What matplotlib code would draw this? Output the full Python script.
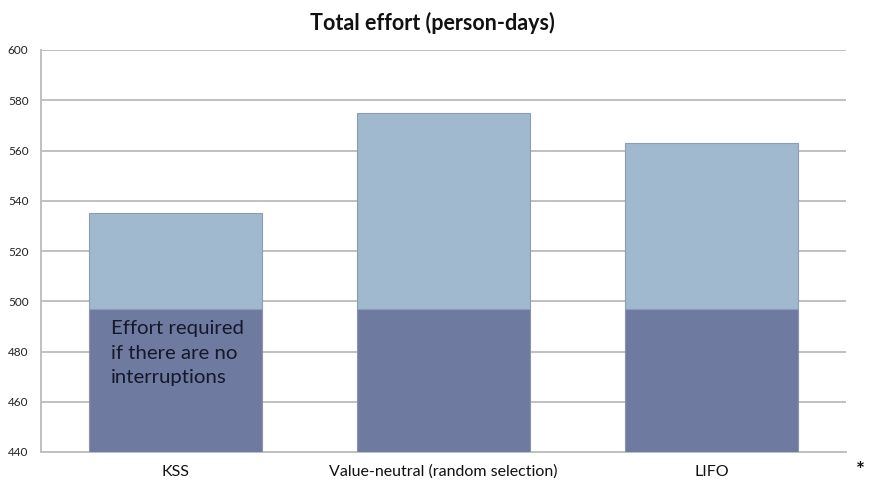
import matplotlib
matplotlib.use("Agg")
import matplotlib.pyplot as plt

categories = ["KSS", "Value-neutral (random selection)", "LIFO"]
base_effort = [497, 497, 497]
total_effort = [535, 575, 563]
yticks = [440, 460, 480, 500, 520, 540, 560, 580, 600]

plt.rcParams['font.family'] = ['Lato', 'DejaVu Sans']

fig = plt.figure(figsize=(8.69, 4.82), dpi=100)
ax = fig.add_axes([41/869, 30/482, 805/869, 402/482])

x = list(range(len(categories)))
extra = [t - b for t, b in zip(total_effort, base_effort)]
ax.bar(x, base_effort, width=0.645, color="#6F7AA0", edgecolor="#8a92b0", linewidth=0.8, zorder=3)
ax.bar(x, extra, bottom=base_effort, width=0.645, color="#A1B9CF", edgecolor="#8a9db3", linewidth=0.8, zorder=3)

ax.set_ylim(440, 600)
ax.set_xlim(-0.5, 2.5)
ax.set_yticks(yticks)
ax.set_yticklabels([str(v) for v in yticks], fontsize=8.5, color="#222222")
ax.set_xticks(x)
ax.set_xticklabels(categories, fontsize=11.5, color="#111111")
ax.tick_params(axis='y', length=0, pad=9)
ax.tick_params(axis='x', length=0, pad=9)
ax.grid(axis='y', color="#C0C0C0", linewidth=1.4, zorder=0)
for s in ["top", "right"]:
    ax.spines[s].set_visible(False)
ax.spines["left"].set_color("#C0C0C0")
ax.spines["left"].set_linewidth(1.4)
ax.spines["bottom"].set_color("#C0C0C0")
ax.spines["bottom"].set_linewidth(1.4)

ax.text(-0.239, 492.5, "Effort required\nif there are no\ninterruptions", fontsize=14.7,
        color="#15172a", va="top", ha="left", linespacing=1.55, zorder=4)

fig.text(432/869, 1 - 23/482, "Total effort (person-days)", ha="center", va="center",
         fontsize=15.5, fontweight="bold", color="#111111")
fig.text(860/869, 1/482, "*", ha="center", va="bottom", fontsize=15,
         fontweight="bold", color="#111111")

fig.savefig("out.png", dpi=100)
